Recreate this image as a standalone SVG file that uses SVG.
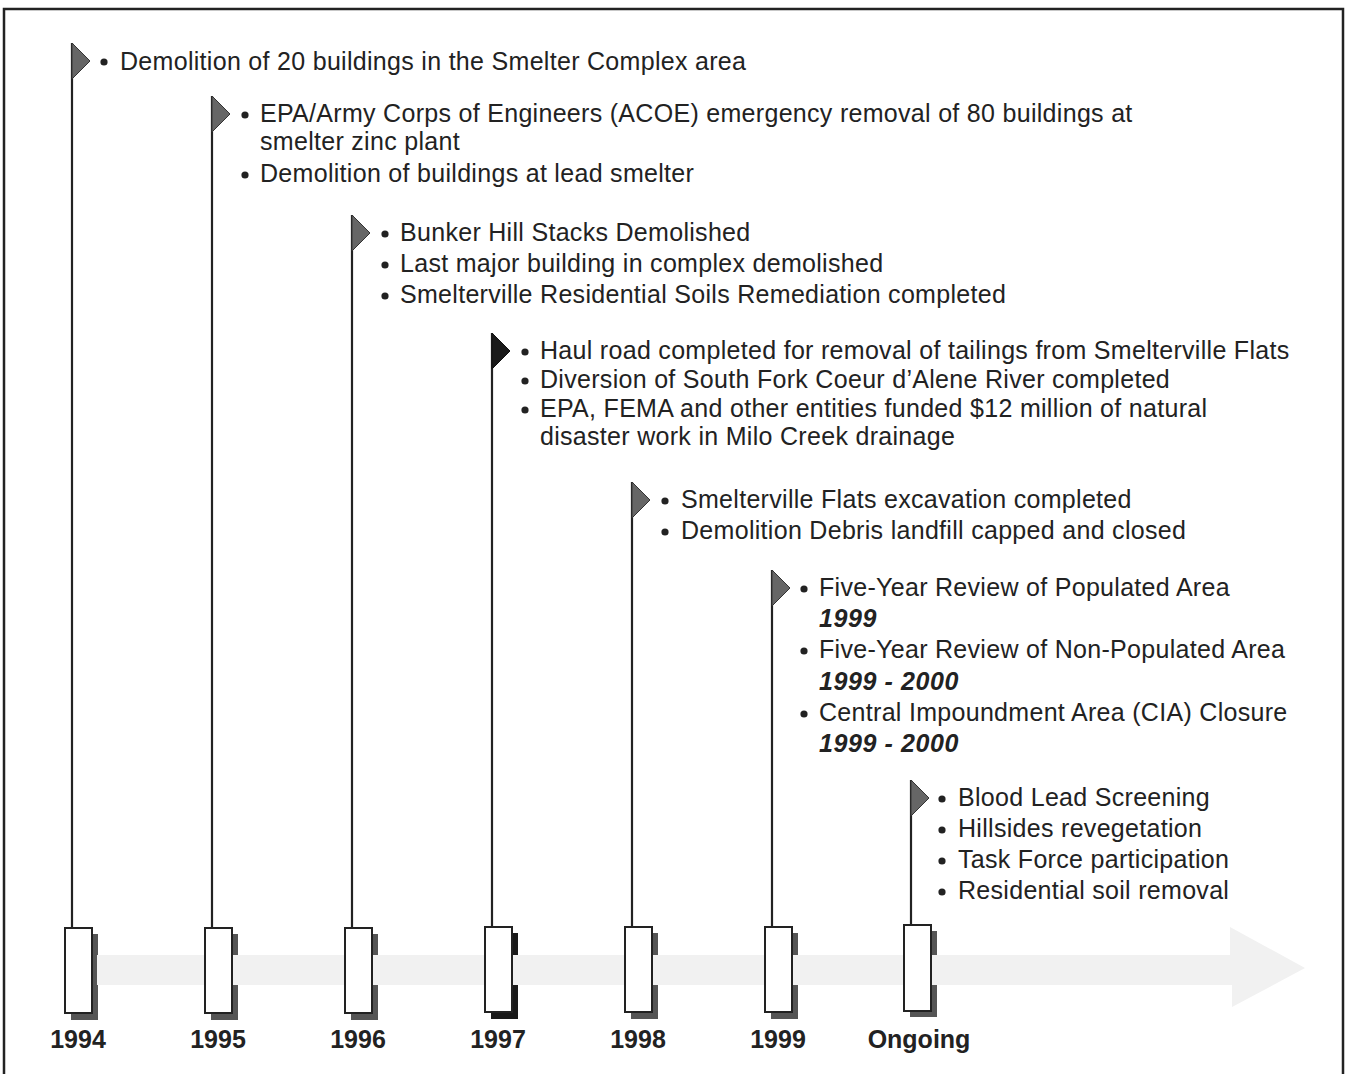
<svg xmlns="http://www.w3.org/2000/svg" width="1346" height="1074" viewBox="0 0 1346 1074">
<style>
.t{font-family:"Liberation Sans",Arial,sans-serif;font-size:25px;letter-spacing:0.3px;fill:#222}
.bi{font-family:"Liberation Sans",Arial,sans-serif;font-size:25px;letter-spacing:0.6px;font-weight:bold;font-style:italic;fill:#222}
.yr{font-family:"Liberation Sans",Arial,sans-serif;font-size:25px;font-weight:bold;fill:#222;text-anchor:middle}
.pole{stroke:#222;stroke-width:2.2;fill:none}
.flag{fill:#666;stroke:#333;stroke-width:1}
.flagk{fill:#1a1a1a;stroke:#111;stroke-width:1}
.box{fill:#fff;stroke:#222;stroke-width:2}
.sh{fill:#555}
.shk{fill:#1a1a1a}
.bul{fill:#222}
</style>
<rect width="1346" height="1074" fill="#fff"/>
<path d="M4,1074 V9 H1343 V1074" fill="none" stroke="#222" stroke-width="2.5"/>

<g id="connectors">
<line class="pole" x1="72" y1="43" x2="72" y2="928"/>
<line class="pole" x1="212" y1="96" x2="212" y2="928"/>
<line class="pole" x1="352" y1="215" x2="352" y2="928"/>
<line class="pole" x1="492" y1="333" x2="492" y2="928"/>
<line class="pole" x1="632" y1="482" x2="632" y2="928"/>
<line class="pole" x1="772" y1="570" x2="772" y2="928"/>
<line class="pole" x1="911" y1="780" x2="911" y2="926"/>
</g>

<g id="timeline-shadows">
<rect class="sh" x="71" y="934" width="27" height="86"/>
<rect class="sh" x="211" y="934" width="27" height="86"/>
<rect class="sh" x="351" y="934" width="27" height="86"/>
<rect class="shk" x="491" y="933" width="27" height="86"/>
<rect class="sh" x="631" y="933" width="27" height="86"/>
<rect class="sh" x="771" y="933" width="27" height="86"/>
<rect class="sh" x="910" y="931" width="27" height="86"/>
</g>

<g id="timeline-arrow">
<path d="M97,955 H1230 V927 L1305,968 L1232,1007 V985 H97 Z" fill="#f1f1f1"/>
</g>

<g id="y1994">
<rect class="box" x="65" y="928" width="27" height="85"/>
<text class="yr" x="78" y="1048">1994</text>
<path class="flag" d="M72,43 L90,61 L72,79 Z"/>
<circle class="bul" cx="104" cy="62" r="3.6"/>
<text class="t" x="120" y="70">Demolition of 20 buildings in the Smelter Complex area</text>
</g>

<g id="y1995">
<rect class="box" x="205" y="928" width="27" height="85"/>
<text class="yr" x="218" y="1048">1995</text>
<path class="flag" d="M212,96 L230,114 L212,132 Z"/>
<circle class="bul" cx="245" cy="115" r="3.6"/>
<text class="t" x="260" y="122">EPA/Army Corps of Engineers (ACOE) emergency removal of 80 buildings at</text>
<text class="t" x="260" y="150">smelter zinc plant</text>
<circle class="bul" cx="245" cy="175" r="3.6"/>
<text class="t" x="260" y="182">Demolition of buildings at lead smelter</text>
</g>

<g id="y1996">
<rect class="box" x="345" y="928" width="27" height="85"/>
<text class="yr" x="358" y="1048">1996</text>
<path class="flag" d="M352,215 L370,233 L352,251 Z"/>
<circle class="bul" cx="385" cy="234" r="3.6"/>
<text class="t" x="400" y="241">Bunker Hill Stacks Demolished</text>
<circle class="bul" cx="385" cy="265" r="3.6"/>
<text class="t" x="400" y="272">Last major building in complex demolished</text>
<circle class="bul" cx="385" cy="296" r="3.6"/>
<text class="t" x="400" y="303">Smelterville Residential Soils Remediation completed</text>
</g>

<g id="y1997">
<rect class="box" x="485" y="927" width="27" height="85"/>
<text class="yr" x="498" y="1048">1997</text>
<path class="flagk" d="M492,333 L510,351 L492,369 Z"/>
<circle class="bul" cx="525" cy="352" r="3.6"/>
<text class="t" x="540" y="359">Haul road completed for removal of tailings from Smelterville Flats</text>
<circle class="bul" cx="525" cy="381" r="3.6"/>
<text class="t" x="540" y="388">Diversion of South Fork Coeur d’Alene River completed</text>
<circle class="bul" cx="525" cy="410" r="3.6"/>
<text class="t" x="540" y="417">EPA, FEMA and other entities funded $12 million of natural</text>
<text class="t" x="540" y="445">disaster work in Milo Creek drainage</text>
</g>

<g id="y1998">
<rect class="box" x="625" y="927" width="27" height="85"/>
<text class="yr" x="638" y="1048">1998</text>
<path class="flag" d="M632,482 L650,500 L632,518 Z"/>
<circle class="bul" cx="665" cy="501" r="3.6"/>
<text class="t" x="681" y="508">Smelterville Flats excavation completed</text>
<circle class="bul" cx="665" cy="532" r="3.6"/>
<text class="t" x="681" y="539">Demolition Debris landfill capped and closed</text>
</g>

<g id="y1999">
<rect class="box" x="765" y="927" width="27" height="85"/>
<text class="yr" x="778" y="1048">1999</text>
<path class="flag" d="M772,570 L790,588 L772,606 Z"/>
<circle class="bul" cx="804" cy="589" r="3.6"/>
<text class="t" x="819" y="596">Five-Year Review of Populated Area</text>
<text class="bi" x="819" y="627">1999</text>
<circle class="bul" cx="804" cy="651" r="3.6"/>
<text class="t" x="819" y="658">Five-Year Review of Non-Populated Area</text>
<text class="bi" x="819" y="690">1999 - 2000</text>
<circle class="bul" cx="804" cy="714" r="3.6"/>
<text class="t" x="819" y="721">Central Impoundment Area (CIA) Closure</text>
<text class="bi" x="819" y="752">1999 - 2000</text>
</g>

<g id="ongoing">
<rect class="box" x="904" y="925" width="27" height="86"/>
<text class="yr" x="919" y="1048">Ongoing</text>
<path class="flag" d="M911,780 L929,798 L911,816 Z"/>
<circle class="bul" cx="942" cy="799" r="3.6"/>
<text class="t" x="958" y="806">Blood Lead Screening</text>
<circle class="bul" cx="942" cy="830" r="3.6"/>
<text class="t" x="958" y="837">Hillsides revegetation</text>
<circle class="bul" cx="942" cy="861" r="3.6"/>
<text class="t" x="958" y="868">Task Force participation</text>
<circle class="bul" cx="942" cy="892" r="3.6"/>
<text class="t" x="958" y="899">Residential soil removal</text>
</g>
</svg>
